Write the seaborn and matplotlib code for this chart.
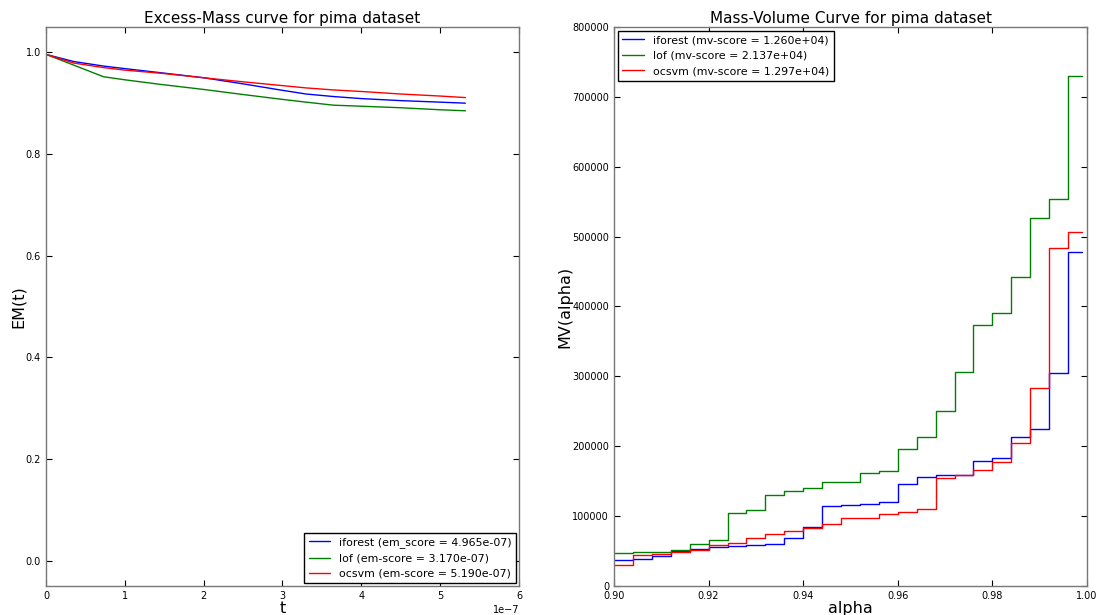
import numpy as np
import pandas as pd
import matplotlib
matplotlib.use("Agg")
import matplotlib.pyplot as plt
import seaborn as sns

# Excess-Mass curves (t in units of 1e-7)
t_em = np.array([0, 0.35, 0.73, 1.0, 1.45, 2.0, 2.5, 2.97, 3.3, 3.65, 4.0, 4.5, 5.0, 5.32]) * 1e-7
em_iforest = [0.996, 0.982, 0.973, 0.968, 0.960, 0.950, 0.938, 0.926, 0.918, 0.913, 0.909, 0.905, 0.902, 0.900]
em_lof = [0.996, 0.975, 0.952, 0.946, 0.937, 0.927, 0.917, 0.908, 0.902, 0.896, 0.894, 0.891, 0.887, 0.885]
em_ocsvm = [0.996, 0.979, 0.970, 0.965, 0.959, 0.950, 0.942, 0.935, 0.930, 0.926, 0.923, 0.918, 0.914, 0.911]

# Mass-Volume curves (step levels starting at each alpha, last one held to 0.999)
alpha = [0.900, 0.904, 0.908, 0.912, 0.916, 0.920, 0.924, 0.928, 0.932, 0.936,
         0.940, 0.944, 0.948, 0.952, 0.956, 0.960, 0.964, 0.968, 0.972, 0.976,
         0.980, 0.984, 0.988, 0.992, 0.996, 0.999]
mv_iforest = [37100, 39000, 42900, 50000, 52400, 55200, 57100, 59000, 60000, 69000,
              84800, 114800, 115200, 117100, 120000, 146200, 156200, 159000, 159000, 179000,
              182900, 212900, 225200, 304800, 478600, 478600]
mv_lof = [47100, 49000, 49000, 51000, 60000, 65700, 103800, 109000, 129500, 135700,
          140000, 149000, 149000, 161000, 165000, 196700, 212900, 251000, 306000, 374000,
          391000, 442000, 527000, 554000, 730000, 730000]
mv_ocsvm = [29500, 43800, 45200, 48600, 51400, 58100, 61900, 69000, 74800, 79000,
            82900, 88100, 96700, 97100, 103300, 105700, 109500, 154300, 159000, 166200,
            177100, 204300, 283800, 484300, 506200, 506200]

em_labels = ["iforest (em_score = 4.965e-07)", "lof (em-score = 3.170e-07)", "ocsvm (em-score = 5.190e-07)"]
mv_labels = ["iforest (mv-score = 1.260e+04)", "lof (mv-score = 2.137e+04)", "ocsvm (mv-score = 1.297e+04)"]
colors = ["b", "g", "r"]

sns.set_style("ticks")
plt.rcParams.update({
    "font.family": ["DejaVu Sans"],
    "text.color": "black", "axes.labelcolor": "black",
    "xtick.color": "black", "ytick.color": "black",
    "xtick.direction": "in", "ytick.direction": "in",
    "xtick.top": True, "ytick.right": True,
    "xtick.major.size": 4, "ytick.major.size": 4,
    "xtick.labelsize": 7, "ytick.labelsize": 7,
    "axes.edgecolor": "#777777", "axes.linewidth": 1.0,
    "axes.formatter.limits": (-5, 6),
    "legend.fancybox": False, "legend.framealpha": 1.0,
    "legend.edgecolor": "black",
})

fig = plt.figure(figsize=(10.97, 6.15), dpi=100)
ax1 = fig.add_axes([0.0419, 0.0472, 0.4312, 0.909])
ax2 = fig.add_axes([0.5597, 0.0472, 0.4312, 0.909])

# left: excess-mass
for y, lab, c in zip([em_iforest, em_lof, em_ocsvm], em_labels, colors):
    sns.lineplot(x=t_em, y=y, ax=ax1, color=c, linewidth=1.0, label=lab)
ax1.set_xlim(0, 6e-7)
ax1.set_ylim(-0.05, 1.05)
ax1.set_title("Excess-Mass curve for pima dataset", fontsize=11, pad=3)
ax1.set_xlabel("t", fontsize=11.5, labelpad=0)
ax1.set_ylabel("EM(t)", fontsize=11.5, labelpad=0)
ax1.legend(loc="lower right", fontsize=7.9, borderaxespad=0.25, handlelength=2.0,
           labelspacing=0.5)

# right: mass-volume
for y, lab, c in zip([mv_iforest, mv_lof, mv_ocsvm], mv_labels, colors):
    sns.lineplot(x=alpha, y=y, ax=ax2, color=c, linewidth=1.0, label=lab,
                 drawstyle="steps-post")
ax2.set_xlim(0.9, 1.0)
ax2.set_ylim(0, 800000)
ax2.xaxis.set_major_formatter(matplotlib.ticker.FormatStrFormatter("%.2f"))
ax2.set_title("Mass-Volume Curve for pima dataset", fontsize=11, pad=3)
ax2.set_xlabel("alpha", fontsize=11.5, labelpad=0)
ax2.set_ylabel("MV(alpha)", fontsize=11.5, labelpad=0)
ax2.legend(loc="upper left", fontsize=7.9, borderaxespad=0.35, handlelength=2.0,
           labelspacing=0.5)

fig.savefig("out.png", dpi=100)
